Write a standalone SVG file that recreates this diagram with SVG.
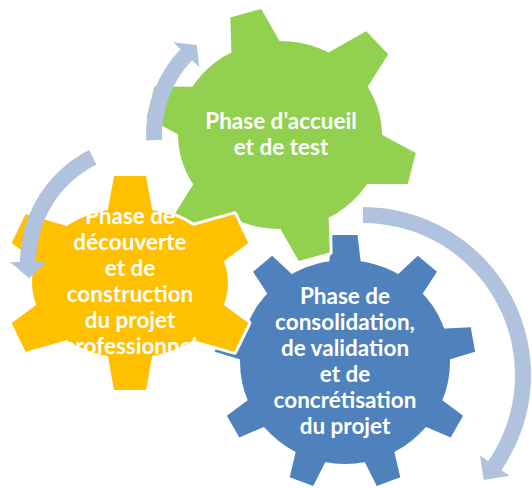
<svg xmlns="http://www.w3.org/2000/svg" width="532" height="488" viewBox="0 0 532 488">
<style>
.outline{fill:#fff;stroke:#fff;stroke-width:6;stroke-linejoin:round}
.blue{fill:#4F81BD}
.green{fill:#92D050}
.orange{fill:#FFC000}
.lbl{font-family:Lato,"Liberation Sans",sans-serif;font-weight:bold;font-size:22.5px;fill:#fff;text-anchor:middle}
.arrow{fill:#B0C2DE}
</style>
<defs>
<polygon id="toothO" points="-12,-24 32,-16 32,16 -12,24"/>
<polygon id="toothG" points="-12,-27 32,-16 32,16 -12,27"/>
<polygon id="toothB" points="-10,-16.7 25,-12.5 25,12.5 -10,16.7"/>
<g id="shapeB">
<ellipse cx="345" cy="362" rx="105" ry="102"/>
<use href="#toothB" transform="translate(345,362) rotate(-90) translate(102,0)"/>
<use href="#toothB" transform="translate(345,362) rotate(-50) translate(103.2,0)"/>
<use href="#toothB" transform="translate(345,362) rotate(-10) translate(104.9,0)"/>
<use href="#toothB" transform="translate(345,362) rotate(30) translate(104.2,0)"/>
<use href="#toothB" transform="translate(345,362) rotate(70) translate(102.3,0)"/>
<use href="#toothB" transform="translate(345,362) rotate(110) translate(102.3,0)"/>
<use href="#toothB" transform="translate(345,362) rotate(150) translate(104.2,0)"/>
<use href="#toothB" transform="translate(345,362) rotate(190) translate(104.9,0)"/>
<use href="#toothB" transform="translate(345,362) rotate(230) translate(103.2,0)"/>
</g>
<g id="shapeG">
<ellipse cx="280" cy="135" rx="102" ry="94"/>
<use href="#toothG" transform="translate(280,135) rotate(-105.7) translate(94.5,0)"/>
<use href="#toothG" transform="translate(280,135) rotate(-43.5) translate(102,0)"/>
<use href="#toothG" transform="translate(280,135) rotate(14.3) translate(104,0)"/>
<use href="#toothG" transform="translate(280,135) rotate(74.3) translate(94.5,0)"/>
<use href="#toothG" transform="translate(280,135) rotate(136) translate(100,0)"/>
<use href="#toothG" transform="translate(280,135) rotate(194.3) translate(101.5,0)"/>
</g>
<g id="shapeO">
<ellipse cx="130" cy="283" rx="98" ry="75"/>
<use href="#toothO" transform="translate(130,283) rotate(-90) translate(75,0)"/>
<use href="#toothO" transform="translate(130,283) rotate(90) translate(75,0)"/>
<use href="#toothO" transform="translate(130,283) rotate(-26) translate(91.9,0)"/>
<use href="#toothO" transform="translate(130,283) rotate(26) translate(91.9,0)"/>
<use href="#toothO" transform="translate(130,283) rotate(154) translate(91.9,0)"/>
<use href="#toothO" transform="translate(130,283) rotate(206) translate(91.9,0)"/>
</g>
</defs>

<g id="gear-consolidation">
<use href="#shapeB" class="outline"/>
<use href="#shapeB" class="blue"/>
<text class="lbl" x="345" y="304">Phase de</text>
<text class="lbl" x="345" y="330">consolidation,</text>
<text class="lbl" x="345" y="356">de validation</text>
<text class="lbl" x="345" y="382">et de</text>
<text class="lbl" x="345" y="408">concrétisation</text>
<text class="lbl" x="345" y="434">du projet</text>
</g>

<g id="gear-accueil">
<use href="#shapeG" class="outline"/>
<use href="#shapeG" class="green"/>
<text class="lbl" x="281" y="129">Phase d'accueil</text>
<text class="lbl" x="281" y="155">et de test</text>
</g>

<g id="gear-decouverte">
<use href="#shapeO" class="outline"/>
<use href="#shapeO" class="orange"/>
<text class="lbl" x="130" y="224">Phase de</text>
<text class="lbl" x="130" y="250">découverte</text>
<text class="lbl" x="130" y="276">et de</text>
<text class="lbl" x="130" y="302">construction</text>
<text class="lbl" x="130" y="327.5">du projet</text>
<text class="lbl" x="130" y="353.5">professionnel</text>
</g>

<g id="connectors">
<path class="arrow" d="M146.1,140.4 A124,124 0 0 1 180.5,49.2 L173.3,42.3 L196.7,45.1 L199.3,67.2 L192,60.3 A108,108 0 0 0 162.1,139.7 Z"/>
<path class="arrow" d="M89.2,150.1 A125,125 0 0 0 20,262 L10,262 L29.1,278.3 L46,262 L36,262 A109,109 0 0 1 96.4,164.5 Z"/>
<path class="arrow" d="M363,207 A168,168 0 0 1 501.4,470.2 L509.7,475.8 L483.8,480 L480,455.4 L488.3,461.1 A152,152 0 0 0 363,223 Z"/>
</g>
</svg>
